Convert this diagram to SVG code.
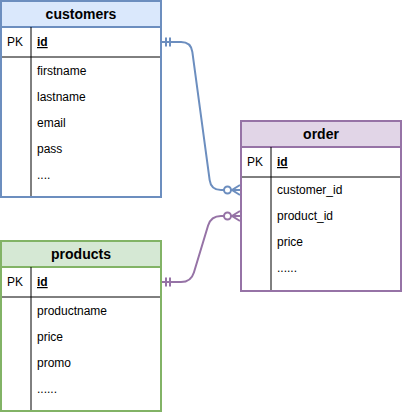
<svg xmlns="http://www.w3.org/2000/svg" width="402" height="412" viewBox="0 0 402 412">
<style>
text{font-family:"Liberation Sans",Arial,sans-serif;font-size:12px;fill:#000}
.h{font-size:14px;font-weight:bold;text-anchor:middle}
.pkid{font-weight:bold;text-decoration:underline}
.sep{stroke:#000;stroke-width:1;fill:none}
.edge{fill:none;stroke-width:2}
.blue{stroke:#6c8ebf}
.purple{stroke:#9673a6}
</style>
<rect width="402" height="412" fill="#ffffff"/>
<g id="customers">
<rect x="1" y="1" width="160" height="196" fill="#ffffff" stroke="#6c8ebf" stroke-width="2"/>
<rect x="1" y="1" width="160" height="26" fill="#dae8fc" stroke="#6c8ebf" stroke-width="2"/>
<line class="sep" x1="31" y1="27" x2="31" y2="196"/>
<line class="sep" x1="2" y1="57" x2="160" y2="57"/>
<text class="h" x="81" y="19">customers</text>
<text x="7" y="46">PK</text>
<text class="pkid" x="37" y="46">id</text>
<text x="37" y="75">firstname</text>
<text x="37" y="101">lastname</text>
<text x="37" y="127">email</text>
<text x="37" y="153">pass</text>
<text x="37" y="179">....</text>
</g>
<g id="order">
<rect x="241" y="121" width="160" height="170" fill="#ffffff" stroke="#9673a6" stroke-width="2"/>
<rect x="241" y="121" width="160" height="26" fill="#e1d5e7" stroke="#9673a6" stroke-width="2"/>
<line class="sep" x1="271" y1="147" x2="271" y2="290"/>
<line class="sep" x1="242" y1="177" x2="400" y2="177"/>
<text class="h" x="321" y="139">order</text>
<text x="247" y="166">PK</text>
<text class="pkid" x="277" y="166">id</text>
<text x="277" y="194">customer_id</text>
<text x="277" y="220">product_id</text>
<text x="277" y="246">price</text>
<text x="277" y="272">......</text>
</g>
<g id="products">
<rect x="1" y="241" width="160" height="170" fill="#ffffff" stroke="#82b366" stroke-width="2"/>
<rect x="1" y="241" width="160" height="26" fill="#d5e8d4" stroke="#82b366" stroke-width="2"/>
<line class="sep" x1="31" y1="267" x2="31" y2="410"/>
<line class="sep" x1="2" y1="297" x2="160" y2="297"/>
<text class="h" x="81" y="259">products</text>
<text x="7" y="286">PK</text>
<text class="pkid" x="37" y="286">id</text>
<text x="37" y="315">productname</text>
<text x="37" y="341">price</text>
<text x="37" y="367">promo</text>
<text x="37" y="393">......</text>
</g>
<g id="connectors">
<g class="blue">
<path class="edge" d="M162,42 L181,42 Q191,42 192.34,51.91 L209.66,180.09 Q211,190 221,190 L240,190"/>
<line class="edge" x1="166" y1="37.5" x2="166" y2="46.5"/>
<line class="edge" x1="170" y1="37.5" x2="170" y2="46.5"/>
<path class="edge" d="M240,185 L232,190 L240,195"/>
<circle cx="227.5" cy="190" r="3.5" fill="#ffffff" stroke-width="2"/>
</g>
<g class="purple">
<path class="edge" d="M162,282 L181,282 Q191,282 193.9,272.43 L208.1,225.57 Q211,216 221,216 L240,216"/>
<line class="edge" x1="166" y1="277.5" x2="166" y2="286.5"/>
<line class="edge" x1="170" y1="277.5" x2="170" y2="286.5"/>
<path class="edge" d="M240,211 L232,216 L240,221"/>
<circle cx="227.5" cy="216" r="3.5" fill="#ffffff" stroke-width="2"/>
</g>
</g>
</svg>
